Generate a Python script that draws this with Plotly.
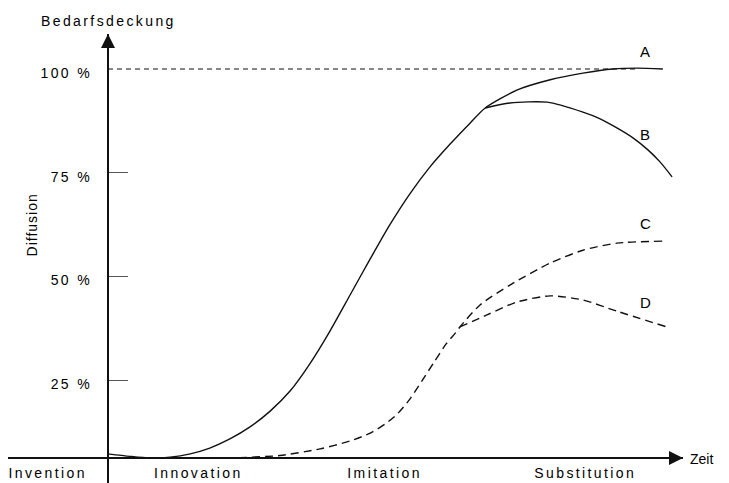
import plotly.graph_objects as go

# ---- data (time in arbitrary units: 0 = vertical axis, 100 = end of time axis; diffusion in %) ----
t_main = [0, 3.8, 7.3, 10.8, 14.3, 17.7, 21.2, 24.7, 28.2, 31.7, 35.1, 38.6, 42.1, 45.6,
          49.0, 52.5, 56.0, 59.5, 63.0, 65.6]
v_main = [7.2, 6.6, 6.2, 6.4, 7.2, 8.6, 10.8, 13.7, 17.5, 22.4, 28.9, 36.8, 45.5, 54.2,
          62.4, 69.9, 76.4, 81.9, 87.0, 90.6]

t_A = [65.6, 71.1, 76.9, 82.6, 87.8, 92.0, 96.5]
v_A = [90.6, 94.9, 97.4, 99.0, 100.0, 100.2, 100.0]

t_B = [65.6, 69.9, 76.4, 82.6, 85.6, 88.5, 91.3, 93.9, 96.0, 98.1]
v_B = [90.6, 91.8, 92.0, 89.6, 88.0, 85.8, 83.4, 80.5, 77.6, 74.0]

t_stem = [16.0, 23.0, 29.9, 36.9, 42.1, 45.6, 48.2, 50.3, 52.5, 54.6, 56.7, 58.8, 60.4, 61.2]
v_stem = [6.2, 6.3, 6.8, 8.4, 10.3, 12.2, 14.4, 16.8, 20.4, 24.8, 29.3, 33.7, 36.3, 37.8]

t_C = [61.2, 64.7, 69.9, 76.9, 82.6, 88.5, 96.5]
v_C = [37.8, 43.1, 47.9, 53.2, 56.3, 58.0, 58.5]

t_D = [61.2, 65.9, 71.1, 76.9, 82.6, 88.5, 97.2]
v_D = [37.8, 40.7, 43.8, 45.3, 44.3, 41.6, 37.8]

saturation_t = [0, 92.0]
saturation_v = [100, 100]

phase_labels = ["Invention", "Innovation", "Imitation", "Substitution"]
phase_t = [-10.5, 15.7, 48.1, 83.0]

y_tick_vals = [25, 50, 75, 100]
y_tick_text = ["25 %", "50 %", "75 %", "100 %"]
y_minor_ticks = [25, 50, 75]

curve_names = ["A", "B", "C", "D"]
curve_label_t = [93.4, 93.4, 93.4, 93.4]
curve_label_v = [104.3, 84.3, 62.8, 43.8]

# ---- styling ----
FONT = "Liberation Sans, Arial, sans-serif"
INK = "#111111"
TXT = "#000000"
SP = "letter-spacing:2.4px"


def spaced(s, sp=SP):
    return f"<span style='{sp}'>{s}</span>"


fig = go.Figure()

line_solid = dict(color=INK, width=1.4, shape="spline", smoothing=0.7)
line_dash = dict(color=INK, width=1.4, shape="spline", smoothing=0.7, dash="8px,5px")

fig.add_trace(go.Scatter(x=saturation_t, y=saturation_v, mode="lines",
                         line=dict(color=INK, width=1.2, dash="5px,4px"), hoverinfo="skip"))
fig.add_trace(go.Scatter(x=t_main + t_A[1:], y=v_main + v_A[1:], mode="lines",
                         line=line_solid, hoverinfo="skip"))
fig.add_trace(go.Scatter(x=t_B, y=v_B, mode="lines", line=line_solid, hoverinfo="skip"))
fig.add_trace(go.Scatter(x=t_stem + t_C[1:], y=v_stem + v_C[1:], mode="lines",
                         line=line_dash, hoverinfo="skip"))
fig.add_trace(go.Scatter(x=t_D, y=v_D, mode="lines", line=line_dash, hoverinfo="skip"))

# page body has an 8px margin, so the figure is sized to the visible area
W, H = 721, 475
ml, mr, mt, mb = 0, 46, 26, 0
x_range = [-17.39, 100.0]
y_range = [0.17, 108.44]
x_axis_level = 6.2
x_axis_pos = (x_axis_level - y_range[0]) / (y_range[1] - y_range[0])
y_axis_pos = (0 - x_range[0]) / (x_range[1] - x_range[0])
pw, ph = W - ml - mr, H - mt - mb


def px(xs):  # screen x pixel -> paper
    return (xs - 8 - ml) / pw


def py(ys):  # screen y pixel -> paper
    return (H - mb - (ys - 8)) / ph


fig.update_layout(
    width=W, height=H,
    margin=dict(l=ml, r=mr, t=mt, b=mb, pad=0),
    paper_bgcolor="white", plot_bgcolor="white",
    showlegend=False,
    font=dict(family=FONT, size=14, color=TXT),
    xaxis=dict(range=x_range, anchor="free", position=x_axis_pos,
               showgrid=False, zeroline=False, showline=True, linecolor=INK, linewidth=2,
               ticks="", tickmode="array", tickvals=phase_t,
               ticktext=[spaced(s) for s in phase_labels],
               ticklabeloverflow="allow",
               tickfont=dict(family=FONT, size=14, color=TXT), ticklabelstandoff=2),
    yaxis=dict(range=y_range, anchor="free", position=y_axis_pos, side="left",
               showgrid=False, zeroline=False, showline=True, linecolor=INK, linewidth=2,
               ticks="", tickmode="array", tickvals=y_tick_vals,
               ticktext=[spaced(s) for s in y_tick_text],
               tickfont=dict(family=FONT, size=14, color=TXT),
               ticklabelstandoff=12, ticklabelshift=4,
               minor=dict(tickmode="array", tickvals=y_minor_ticks, ticks="inside",
                          ticklen=19, tickwidth=1, tickcolor="#555", showgrid=False)),
)

ann = []
# axis arrows
ann.append(dict(x=x_range[1], y=x_axis_level, xref="x", yref="y", ax=-22, ay=0,
                showarrow=True, arrowhead=2, arrowsize=1.4, arrowwidth=2, arrowcolor=INK, text=""))
ann.append(dict(x=0, y=y_range[1], xref="x", yref="y", ax=0, ay=22,
                showarrow=True, arrowhead=2, arrowsize=1.4, arrowwidth=2, arrowcolor=INK, text=""))
# axis titles
ann.append(dict(x=px(108), y=py(21), xref="paper", yref="paper", text=spaced("Bedarfsdeckung"),
                showarrow=False, xanchor="center", yanchor="middle", font=dict(size=14)))
ann.append(dict(x=px(689), y=py(459), xref="paper", yref="paper",
                text="Zeit", borderpad=0,
                showarrow=False, xanchor="left", yanchor="middle", font=dict(size=14)))
ann.append(dict(x=-13.2, y=62.3, xref="x", yref="y", text=spaced("Diffusion", "letter-spacing:1px"),
                textangle=-90, showarrow=False, xanchor="center", yanchor="middle",
                font=dict(size=14)))
# curve labels
for name, tx, vy in zip(curve_names, curve_label_t, curve_label_v):
    ann.append(dict(x=tx, y=vy, xref="x", yref="y", text=name, showarrow=False,
                    xanchor="center", yanchor="middle", font=dict(size=15)))

fig.update_layout(annotations=ann)

fig.write_html("out.html")
